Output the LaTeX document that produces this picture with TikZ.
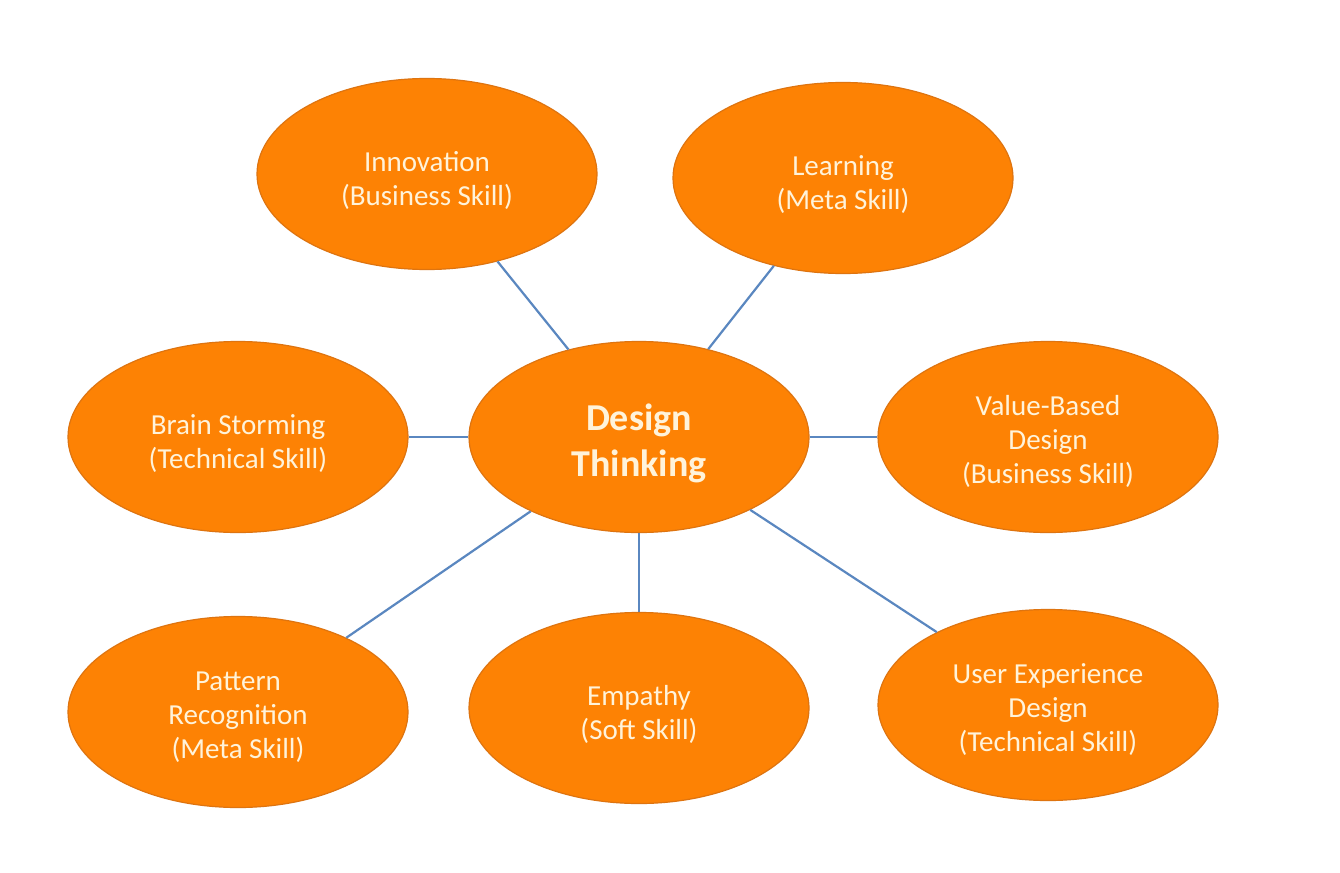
\documentclass[tikz,border=0pt]{standalone}
\usepackage{fontspec}
\setmainfont{Carlito}
\usetikzlibrary{shapes.geometric}
\definecolor{ofill}{HTML}{FD8204}
\definecolor{oline}{HTML}{DE7410}
\definecolor{otext}{HTML}{FFF3DA}
\definecolor{blink}{HTML}{5A87C0}
\newcommand{\topstrut}[1]{\rule{0pt}{#1pt}}
\tikzset{
  bubble/.style={ellipse, draw=oline, line width=1.2pt, fill=ofill, text=otext,
    minimum width=340pt, minimum height=191pt, inner sep=0pt, align=center,
    font=\fontsize{29}{34}\selectfont},
  hub/.style={bubble, font=\fontsize{38}{46}\selectfont\bfseries},
  link/.style={draw=blink, line width=2.2pt}
}
\begin{document}
\begin{tikzpicture}[x=1pt,y=-1pt]
\useasboundingbox[fill=white] (0,0) rectangle (1340,872);
\node[hub]    (dt)  at (639,437) {\topstrut{40}Design\\Thinking};
\node[bubble] (inn) at (427,174) {\topstrut{33}Innovation\\(Business Skill)};
\node[bubble] (lea) at (843,178) {\topstrut{33}Learning\\(Meta Skill)};
\node[bubble] (bra) at (238,437) {\topstrut{33}Brain Storming\\(Technical Skill)};
\node[bubble] (val) at (1048,437) {\topstrut{30}Value-Based\\Design\\(Business Skill)};
\node[bubble] (pat) at (238,712) {\topstrut{30}Pattern\\Recognition\\(Meta Skill)};
\node[bubble] (emp) at (639,708) {\topstrut{33}Empathy\\(Soft Skill)};
\node[bubble] (ux)  at (1048,705) {\topstrut{30}User Experience\\Design\\(Technical Skill)};
\draw[link] (dt) -- (inn);
\draw[link] (dt) -- (lea);
\draw[link] (dt) -- (bra);
\draw[link] (dt) -- (val);
\draw[link] (dt) -- (pat);
\draw[link] (dt) -- (emp);
\draw[link] (dt) -- (ux);
\end{tikzpicture}
\end{document}
